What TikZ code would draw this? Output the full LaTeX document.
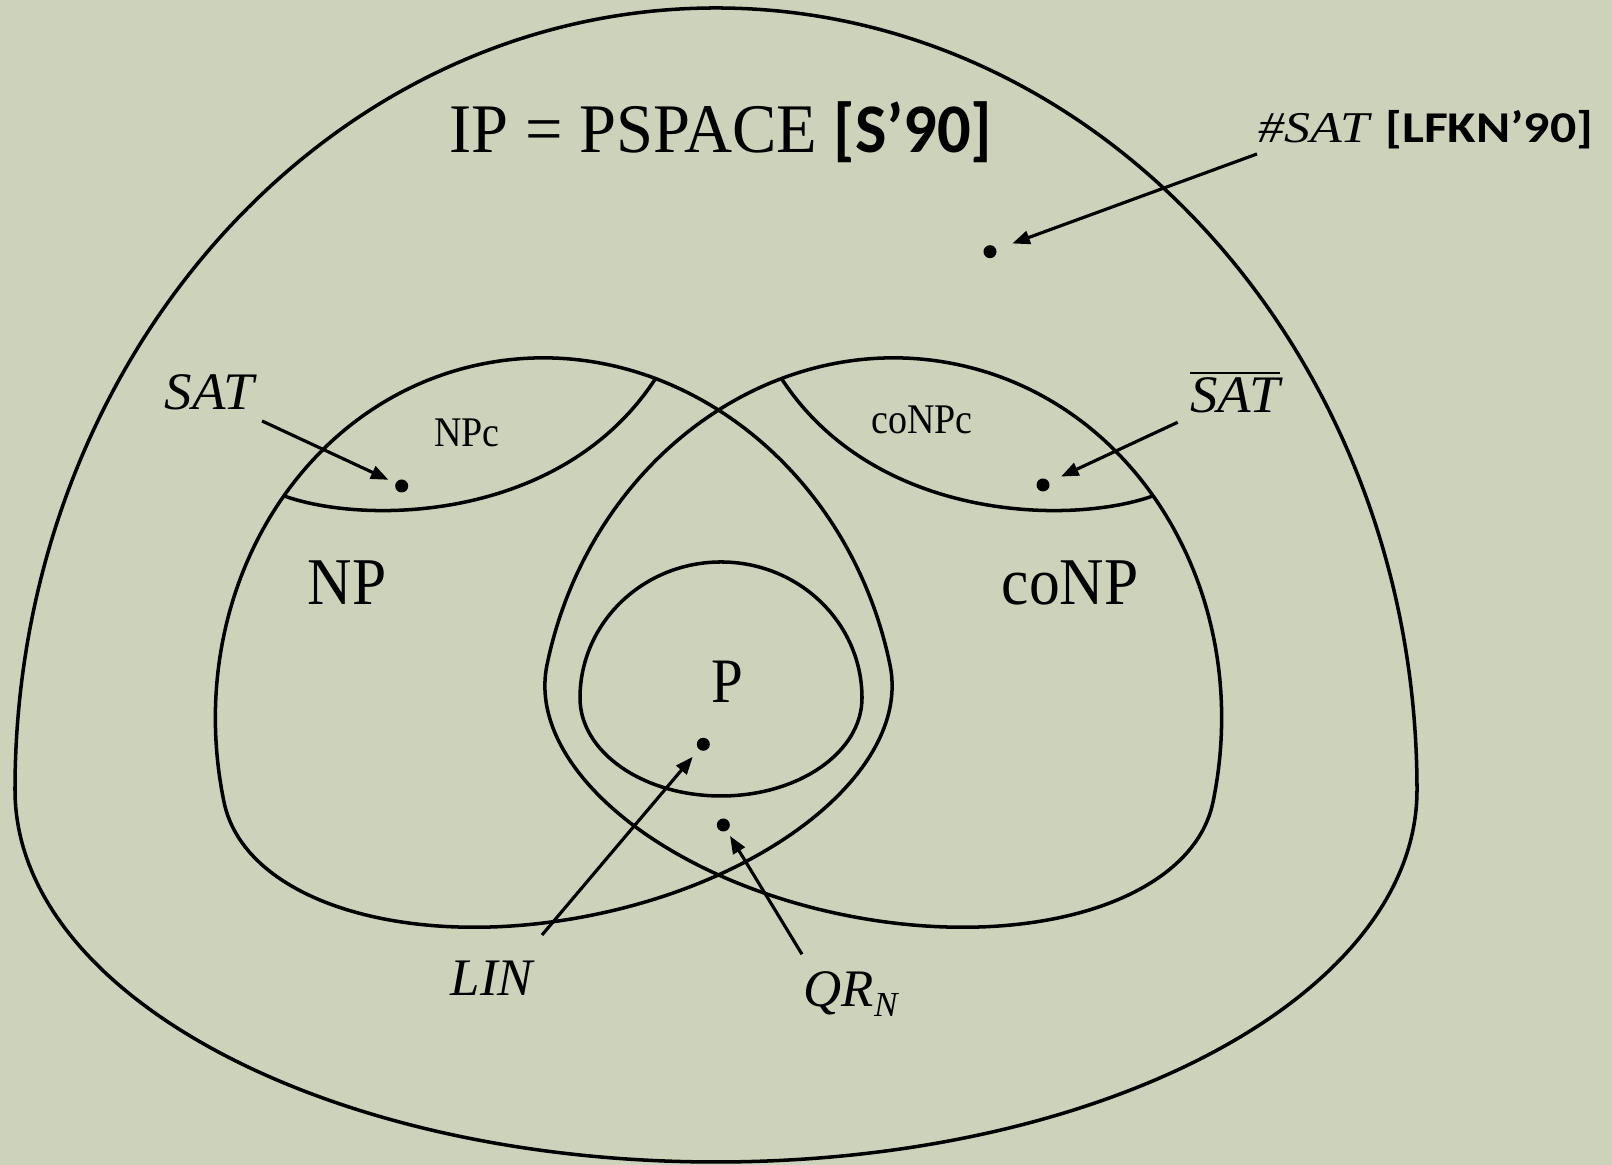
\documentclass[tikz,border=0pt]{standalone}
\usepackage{fontspec}
\usepackage{graphicx}
\setmainfont{Liberation Serif}
\newfontfamily\bsans{Carlito}
\usetikzlibrary{arrows.meta}
\definecolor{bgc}{RGB}{205,211,187}
\begin{document}
\begin{tikzpicture}[x=0.01cm,y=0.01cm,
  shp/.style={line width=1pt, line join=round},
  arr/.style={line width=0.9pt, -{Triangle[length=5pt,width=3.8pt]}},
  dotn/.style={circle, fill=black, inner sep=0pt, minimum size=0.13cm},
  lbl/.style={inner sep=0pt, anchor=base}]
\fill[bgc] (0,0) rectangle (1612,1165);
\useasboundingbox (0,0) rectangle (1612,1165);

% PSPACE (outer)
\draw[shp] (15,375) arc[start angle=180,end angle=0,x radius=701,y radius=782]
  arc[start angle=0,end angle=-180,x radius=701,y radius=372] -- cycle;

% NP
\draw[shp, shift={(557,431.5)}, rotate=11.62] (-340,0)
  arc[start angle=180,end angle=0,x radius=340,y radius=377]
  arc[start angle=0,end angle=-180,x radius=340,y radius=185] -- cycle;
% coNP
\draw[shp, shift={(880,431.5)}, rotate=-11.62] (-340,0)
  arc[start angle=180,end angle=0,x radius=340,y radius=377]
  arc[start angle=0,end angle=-180,x radius=340,y radius=185] -- cycle;
% P
\draw[shp] (580,467) arc[start angle=180,end angle=0,x radius=141,y radius=136]
  arc[start angle=0,end angle=-180,x radius=141,y radius=98] -- cycle;

% NPc boundary
\begin{scope}
\clip[shift={(557,431.5)}, rotate=11.62] (-340,0)
  arc[start angle=180,end angle=0,x radius=340,y radius=377]
  arc[start angle=0,end angle=-180,x radius=340,y radius=185] -- cycle;
\draw[shp] (262,676.4) -- (287,668) .. controls (370,640) and (560,645) .. (653,782.6) -- (681,824);
\end{scope}
% coNPc boundary
\begin{scope}
\clip[shift={(880,431.5)}, rotate=-11.62] (-340,0)
  arc[start angle=180,end angle=0,x radius=340,y radius=377]
  arc[start angle=0,end angle=-180,x radius=340,y radius=185] -- cycle;
\draw[shp] (1175,676.4) -- (1150,668) .. controls (1067,640) and (877,645) .. (784,782.6) -- (756,824);
\end{scope}

% labels
\node[lbl] (title) at (721,1012) {\fontsize{19.8}{24}\selectfont\scalebox{0.955}[1]{IP = PSPACE {\bsans\bfseries [S’90]}}};
\node[lbl] (hsat) at (1426,1022) {\fontsize{12.5}{15}\selectfont\scalebox{1.18}[1]{\textit{\#SAT} {\bsans\bfseries [LFKN’90]}}};
\node[lbl] (sat) at (211,755) {\fontsize{15}{18}\selectfont\scalebox{1.04}[1]{\textit{SAT}}};
\node[lbl] (satb) at (1235,752) {\fontsize{15}{18}\selectfont\scalebox{1.04}[1]{$\overline{\hbox{\itshape SAT}}$}};
\node[lbl] (npc) at (467,718) {\fontsize{12}{14}\selectfont\scalebox{0.9}[1]{NPc}};
\node[lbl] (conpc) at (922,731) {\fontsize{12}{14}\selectfont\scalebox{0.9}[1]{coNPc}};
\node[lbl] (np) at (347,560.5) {\fontsize{19}{22}\selectfont\scalebox{0.92}[1]{NP}};
\node[lbl] (conp) at (1070,560.5) {\fontsize{19}{22}\selectfont\scalebox{0.92}[1]{coNP}};
\node[lbl] (p) at (727,462) {\fontsize{18}{22}\selectfont\scalebox{0.9}[1]{P}};
\node[lbl] (lin) at (493,169) {\fontsize{15}{18}\selectfont\textit{LIN}};
\node[inner sep=0pt, anchor=base west] (qr) at (803,158) {\fontsize{15}{18}\selectfont\textit{QR}\raisebox{-2.8pt}{\fontsize{10}{12}\selectfont\textit{N}}};

% dots
\node[dotn] (d1) at (990,913.3) {};
\node[dotn] (d2) at (401.7,679) {};
\node[dotn] (d3) at (1043,680) {};
\node[dotn] (d4) at (703.3,420.7) {};
\node[dotn] (d5) at (723.3,340) {};

% arrows
\coordinate (a1) at (1257,1011);
\coordinate (a2) at (262,744);
\coordinate (a3) at (1177.7,742.7);
\coordinate (a4) at (542,230);
\coordinate (a5) at (802,210.7);
\draw[arr, shorten >=4.7pt] (a1) -- (d1);
\draw[arr, shorten >=2.1pt] (a2) -- (d2);
\draw[arr, shorten >=3.6pt] (a3) -- (d3);
\draw[arr, shorten >=2.6pt] (a4) -- (d4);
\draw[arr, shorten >=1.6pt] (a5) -- (d5);
\end{tikzpicture}
\end{document}
